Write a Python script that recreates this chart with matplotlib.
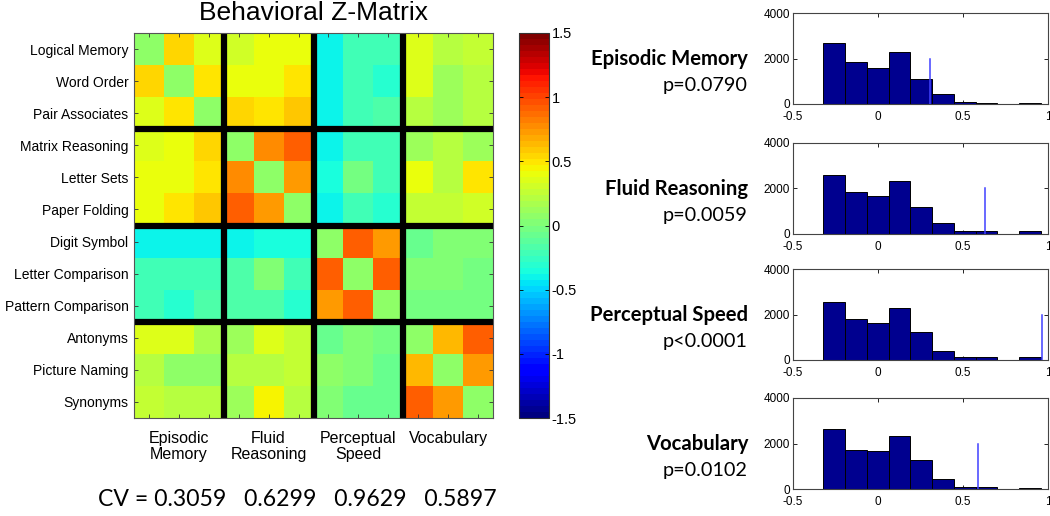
import numpy as np
import matplotlib
matplotlib.use("Agg")
import matplotlib.pyplot as plt
from matplotlib.transforms import blended_transform_factory

# ---------------- data ----------------
tests = ["Logical Memory", "Word Order", "Pair Associates",
         "Matrix Reasoning", "Letter Sets", "Paper Folding",
         "Digit Symbol", "Letter Comparison", "Pattern Comparison",
         "Antonyms", "Picture Naming", "Synonyms"]
domains = ["Episodic\nMemory", "Fluid\nReasoning", "Perceptual\nSpeed", "Vocabulary"]
domain_names = ["Episodic Memory", "Fluid Reasoning", "Perceptual Speed", "Vocabulary"]
p_labels = ["p=0.0790", "p=0.0059", "p<0.0001", "p=0.0102"]
cv_values = [0.3059, 0.6299, 0.9629, 0.5897]

z_matrix = [
    [0.05, 0.55, 0.33, 0.32, 0.42, 0.42, -0.38, -0.20, -0.20, 0.35, 0.22, 0.27],
    [0.55, 0.05, 0.50, 0.42, 0.42, 0.50, -0.38, -0.22, -0.30, 0.35, 0.10, 0.22],
    [0.33, 0.50, 0.07, 0.55, 0.48, 0.60, -0.38, -0.22, -0.17, 0.20, 0.10, 0.22],
    [0.35, 0.42, 0.55, 0.05, 0.75, 0.92, -0.38, -0.20, -0.20, 0.10, 0.22, 0.10],
    [0.42, 0.42, 0.48, 0.75, 0.05, 0.72, -0.35, -0.03, -0.20, 0.40, 0.22, 0.47],
    [0.42, 0.48, 0.60, 0.92, 0.72, 0.05, -0.38, -0.22, -0.30, 0.27, 0.27, 0.30],
    [-0.38, -0.38, -0.38, -0.38, -0.35, -0.37, 0.05, 0.92, 0.72, -0.05, 0.03, 0.00],
    [-0.20, -0.23, -0.23, -0.17, 0.00, -0.22, 0.92, 0.05, 0.92, 0.00, 0.00, -0.02],
    [-0.20, -0.30, -0.17, -0.17, -0.17, -0.30, 0.72, 0.92, 0.05, -0.02, -0.02, -0.02],
    [0.35, 0.35, 0.17, 0.10, 0.35, 0.27, -0.05, 0.00, -0.02, 0.05, 0.62, 0.92],
    [0.20, 0.05, 0.05, 0.20, 0.20, 0.27, 0.05, 0.00, -0.05, 0.62, 0.05, 0.72],
    [0.27, 0.23, 0.23, 0.10, 0.43, 0.23, 0.00, -0.05, -0.05, 0.92, 0.72, 0.05],
]

bin_centers = [-0.258, -0.130, -0.002, 0.126, 0.254, 0.382, 0.510, 0.638, 0.766, 0.894]
bin_width = 0.128
counts_episodic = [2670, 1860, 1565, 2300, 1090, 430, 70, 60, 0, 60]
counts_fluid = [2600, 1850, 1650, 2330, 1180, 470, 115, 115, 0, 115]
counts_speed = [2540, 1820, 1620, 2265, 1220, 410, 145, 145, 0, 118]
counts_vocab = [2640, 1730, 1650, 2320, 1255, 430, 75, 75, 0, 30]
hist_counts = [counts_episodic, counts_fluid, counts_speed, counts_vocab]

# ---------------- figure ----------------
W, H = 1050, 516
fig = plt.figure(figsize=(W / 100, H / 100), dpi=100)
ARIAL = "Liberation Sans"
CALIBRI = "Lato"

def px_axes(left, top, right, bottom):
    return fig.add_axes([left / W, 1 - bottom / H, (right - left) / W, (bottom - top) / H])

# heatmap
ax = px_axes(134, 33, 493, 418)
cmap = plt.get_cmap("jet", 64)
im = ax.imshow(np.array(z_matrix), cmap=cmap, vmin=-1.5, vmax=1.5,
               aspect="auto", interpolation="nearest")
n = len(tests)
for b in [3, 6, 9]:
    ax.axvline(b - 0.5, color="black", lw=4.5)
    ax.axhline(b - 0.5, color="black", lw=4.5)
ax.set_yticks(range(n))
ax.set_yticklabels(tests, fontfamily=ARIAL, fontsize=10)
ax.set_xticks(range(n))
ax.set_xticklabels([])
ax.tick_params(direction="in", length=3, width=0.6, top=True, right=True,
               color="#333333", pad=4)
for s in ax.spines.values():
    s.set_color("#555555")
    s.set_linewidth(0.8)
ax.set_title("Behavioral Z-Matrix", fontfamily=ARIAL, fontsize=19, pad=9)

trans = blended_transform_factory(ax.transData, ax.transAxes)
for i, lab in enumerate(domains):
    ax.text(3 * i + 1, -0.035, lab, transform=trans, ha="center", va="top",
            fontfamily=ARIAL, fontsize=11.5, linespacing=1.05)

cv_text = "CV = " + "   ".join(f"{v:.4f}" for v in cv_values)
fig.text(297 / W, 1 - 499 / H, cv_text, ha="center", va="center",
         fontfamily=CALIBRI, fontsize=16.6)

# colorbar
cax = px_axes(519, 33, 549, 418)
cb = fig.colorbar(im, cax=cax)
cb.set_ticks([-1.5, -1, -0.5, 0, 0.5, 1, 1.5])
cb.set_ticklabels(["-1.5", "-1", "-0.5", "0", "0.5", "1", "1.5"])
cax.tick_params(direction="in", length=3, width=0.6, left=True, right=True,
                labelsize=10.5, pad=2)
for t in cax.get_yticklabels():
    t.set_fontfamily(ARIAL)
cb.outline.set_linewidth(0.8)
cb.outline.set_edgecolor("#333333")

# histograms
tops = [13, 143, 269, 398]
for k in range(4):
    top = tops[k]
    hax = px_axes(793, top, 1048, top + 91)
    hax.bar(bin_centers, hist_counts[k], width=bin_width, color=(0, 0, 0.5625),
            edgecolor="black", linewidth=0.7, zorder=2)
    hax.plot([cv_values[k], cv_values[k]], [0, 2000], color="#4040ff", lw=1.1, zorder=3)
    hax.set_xlim(-0.5, 1)
    hax.set_ylim(0, 4000)
    hax.set_xticks([-0.5, 0, 0.5, 1])
    hax.set_xticklabels(["-0.5", "0", "0.5", "1"])
    hax.set_yticks([0, 2000, 4000])
    hax.set_yticklabels(["0", "2000", "4000"])
    hax.tick_params(direction="in", length=3, width=0.6, top=True, right=True,
                    labelsize=8.5, pad=2)
    hax.tick_params(axis="x", pad=5)
    for t in hax.get_xticklabels() + hax.get_yticklabels():
        t.set_fontfamily(ARIAL)
    for s in hax.spines.values():
        s.set_linewidth(0.8)
        s.set_color("#444444")
    fig.text(748 / W, 1 - (top + 52) / H, domain_names[k], ha="right", va="baseline",
             fontfamily=CALIBRI, fontweight="bold", fontsize=14.6)
    fig.text(748 / W, 1 - (top + 78) / H, p_labels[k], ha="right", va="baseline",
             fontfamily=CALIBRI, fontsize=14.3)

fig.savefig("out.png", dpi=100)
